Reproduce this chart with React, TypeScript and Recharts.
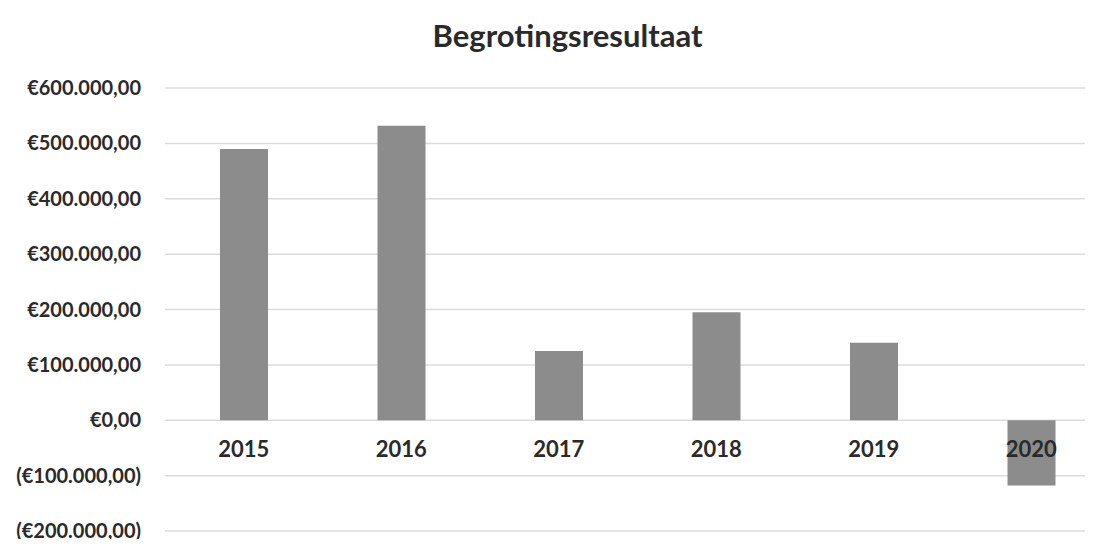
import { BarChart, Bar, XAxis, YAxis, CartesianGrid } from "recharts";

const years = ["2015", "2016", "2017", "2018", "2019", "2020"];
const results = [490000, 532000, 125000, 195000, 140000, -118000];
const yTicks = [-200000, -100000, 0, 100000, 200000, 300000, 400000, 500000, 600000];

const data = years.map((year, i) => ({ year, result: results[i] }));

const FONT = "Lato, 'Open Sans', sans-serif";

function euro(v: number) {
  const s = Math.abs(v)
    .toFixed(0)
    .replace(/\B(?=(\d{3})+(?!\d))/g, ".");
  return v < 0 ? `(€${s},00)` : `€${s},00`;
}

function YTick({ x, y, payload }: any) {
  return (
    <text
      x={x - 16}
      y={y}
      dy={7}
      textAnchor="end"
      fill="#2a2a2a"
      fontSize={20}
      fontWeight={700}
      fontFamily={FONT}
    >
      {euro(payload.value)}
    </text>
  );
}

// category labels sit just under the zero line, like Excel does
function XTick({ x, y, payload }: any) {
  return (
    <text
      x={x}
      y={y - 90}
      dy={8}
      textAnchor="middle"
      fill="#2a2a2a"
      fontSize={22}
      fontWeight={700}
      fontFamily={FONT}
    >
      {payload.value}
    </text>
  );
}

export default function App() {
  return (
    <div style={{ position: "relative", margin: -8, width: 1093, height: 547, background: "#fff", overflow: "hidden" }}>
      <div
        style={{
          position: "absolute",
          top: 16,
          left: 0,
          width: 1135,
          textAlign: "center",
          fontFamily: FONT,
          fontSize: 31,
          fontWeight: 700,
          color: "#2a2a2a",
        }}
      >
        Begrotingsresultaat
      </div>
      <BarChart
        width={1110}
        height={547}
        data={data}
        margin={{ top: 88, right: 0, bottom: 15, left: 0 }}
      >
        <CartesianGrid vertical={false} stroke="#dcdcdc" strokeWidth={1.5} />
        <XAxis
          dataKey="year"
          height={1}
          axisLine={false}
          tickLine={false}
          tick={<XTick />}
          interval={0}
        />
        <YAxis
          width={165}
          domain={[-200000, 600000]}
          ticks={yTicks}
          axisLine={false}
          tickLine={false}
          tick={<YTick />}
          interval={0}
        />
        <Bar dataKey="result" fill="#8c8c8c" barSize={48} isAnimationActive={false} />
      </BarChart>
    </div>
  );
}
